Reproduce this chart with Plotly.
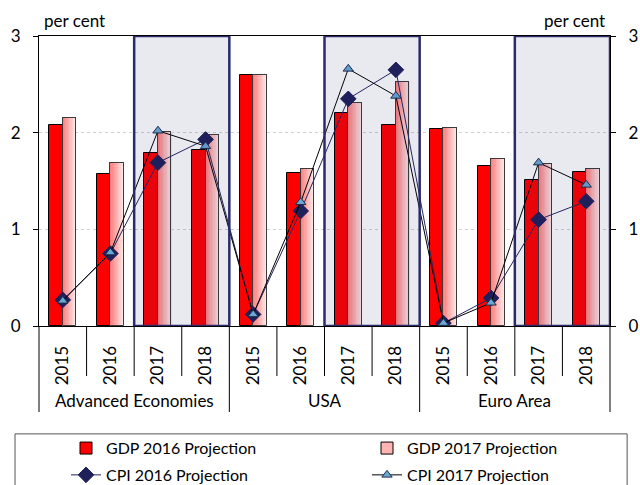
import plotly.graph_objects as go

# data
regions = ["Advanced Economies", "USA", "Euro Area"]
years = ["2015", "2016", "2017", "2018"]
shaded_years = ["2017", "2018"]

gdp_2016 = [2.08, 1.57, 1.79, 1.82,
            2.60, 1.58, 2.20, 2.08,
            2.04, 1.66, 1.51, 1.59]
gdp_2017 = [2.15, 1.69, 2.01, 1.98,
            2.60, 1.62, 2.31, 2.52,
            2.05, 1.73, 1.68, 1.62]
cpi_2016 = [0.27, 0.75, 1.69, 1.93,
            0.12, 1.19, 2.35, 2.65,
            0.03, 0.29, 1.10, 1.29]
cpi_2017 = [0.26, 0.76, 2.02, 1.86,
            0.12, 1.28, 2.66, 2.38,
            0.03, 0.24, 1.69, 1.46]

x_cat = [r + " " + y for r in regions for y in years]
x_year = [y for _ in regions for y in years]
n_cat = len(x_cat)
n_yr = len(years)

FONT = "Lato"
BW = 0.284  # bar width in category units

fig = go.Figure()

fig.add_trace(go.Bar(
    x=x_cat, y=gdp_2016, name="GDP 2016 Projection",
    width=BW, offset=-BW, marker=dict(color="#ff0000", line=dict(color="#000000", width=1)),
    legend="legend", legendgroup="a",
))

# GDP 2017 bars: base bar (carries the legend entry), gradient strips, outline on top
fig.add_trace(go.Bar(
    x=x_cat, y=gdp_2017, name="GDP 2017 Projection",
    width=BW, offset=0, marker=dict(color="#ffb4b4", line=dict(color="#000000", width=1)),
    legend="legend2", legendgroup="b",
))
n_strips = 10
c0 = (255, 128, 128)
c1 = (255, 228, 228)
for k in range(n_strips):
    t = k / (n_strips - 1)
    col = "rgb(%d,%d,%d)" % tuple(round(a + (b - a) * t) for a, b in zip(c0, c1))
    fig.add_trace(go.Bar(
        x=x_cat, y=gdp_2017, width=BW / n_strips + 0.002, offset=k * BW / n_strips,
        marker=dict(color=col, line=dict(width=0)), showlegend=False, hoverinfo="skip",
    ))
fig.add_trace(go.Bar(
    x=x_cat, y=gdp_2017, width=BW, offset=0,
    marker=dict(color="rgba(0,0,0,0)", line=dict(color="#3a3a3a", width=1)),
    showlegend=False, hoverinfo="skip",
))

fig.add_trace(go.Scatter(
    x=x_cat, y=cpi_2016, name="CPI 2016 Projection", mode="lines+markers",
    line=dict(color="#262660", width=1),
    marker=dict(symbol="diamond", size=12, color="#1f1f5a", line=dict(color="#1f1f5a", width=1)),
    legend="legend", legendgroup="c",
))
fig.add_trace(go.Scatter(
    x=x_cat, y=cpi_2017, name="CPI 2017 Projection", mode="lines+markers",
    line=dict(color="#000000", width=1),
    marker=dict(symbol="triangle-up", size=9, color="#6aa8d2", line=dict(color="#1c2c4c", width=1)),
    legend="legend2", legendgroup="d", yaxis="y2",
))

# shaded projection periods
for i, r in enumerate(regions):
    idx = [i * n_yr + years.index(y) for y in shaded_years]
    fig.add_shape(
        type="rect", xref="x", yref="y", x0=min(idx) - 0.5, x1=max(idx) + 0.5, y0=0, y1=3,
        fillcolor="rgba(40,40,110,0.1)", line=dict(color="#2b2b6b", width=2.5), layer="above",
    )

# category dividers below the axis (short between years, long between regions)
for k in range(n_cat + 1):
    depth = 86 if k % n_yr == 0 else 50
    fig.add_shape(type="line", xref="paper", yref="paper", x0=k / n_cat, x1=k / n_cat,
                  y0=0, y1=-depth / 290, line=dict(color="#000000", width=1))

# region labels
for i, r in enumerate(regions):
    fig.add_annotation(text=r, xref="paper", yref="paper", x=(i + 0.5) / len(regions),
                       y=-74 / 290, xanchor="center", yanchor="middle", showarrow=False,
                       font=dict(size=17, color="#000000", family=FONT))

# legend frame
fig.add_shape(type="rect", xref="paper", yref="paper", x0=-0.042, x1=1.03, y0=-0.372, y1=-0.7,
              line=dict(color="#555555", width=1), fillcolor="rgba(0,0,0,0)")

fig.add_annotation(text="per cent", xref="paper", yref="paper", x=0.006, y=1.0, xanchor="left",
                   yanchor="bottom", yshift=3, showarrow=False,
                   font=dict(size=17, color="#000000", family=FONT))
fig.add_annotation(text="per cent", xref="paper", yref="paper", x=0.995, y=1.0, xanchor="right",
                   yanchor="bottom", yshift=3, showarrow=False,
                   font=dict(size=17, color="#000000", family=FONT))

yax = dict(range=[0, 3], tickvals=[0, 1, 2, 3], ticks="outside", ticklen=5, tickcolor="#000000",
           showline=True, linecolor="#000000", linewidth=1, zeroline=False, automargin=False,
           ticklabelstandoff=9, tickfont=dict(size=17, color="#000000", family=FONT))

leg = dict(orientation="v", xref="container", yref="container", xanchor="left", yanchor="top",
           y=0.111, tracegroupgap=3, font=dict(size=16, family=FONT), bgcolor="rgba(0,0,0,0)")

fig.update_layout(
    width=640, height=485,
    margin=dict(l=39, r=30, t=36, b=159, autoexpand=False),
    paper_bgcolor="white", plot_bgcolor="white",
    barmode="overlay", bargap=0,
    font=dict(family=FONT, size=15, color="#000000"),
    xaxis=dict(type="category", range=[-0.5, n_cat - 0.5], tickmode="array", tickvals=x_cat,
               ticktext=x_year, tickangle=-90, ticks="", showline=True, mirror=True,
               linecolor="#000000", ticklabelstandoff=12, automargin=False,
               tickfont=dict(size=17, color="#000000", family=FONT)),
    yaxis=dict(yax, showgrid=True, gridcolor="#d0d0d0", griddash="dot", gridwidth=1),
    yaxis2=dict(yax, overlaying="y", side="right", showgrid=False, anchor="x"),
    legend=dict(leg, x=66 / 640),
    legend2=dict(leg, x=367 / 640),
)

fig.write_html("out.html", config={"displayModeBar": False},
               post_script="document.body.style.margin = '0';")
